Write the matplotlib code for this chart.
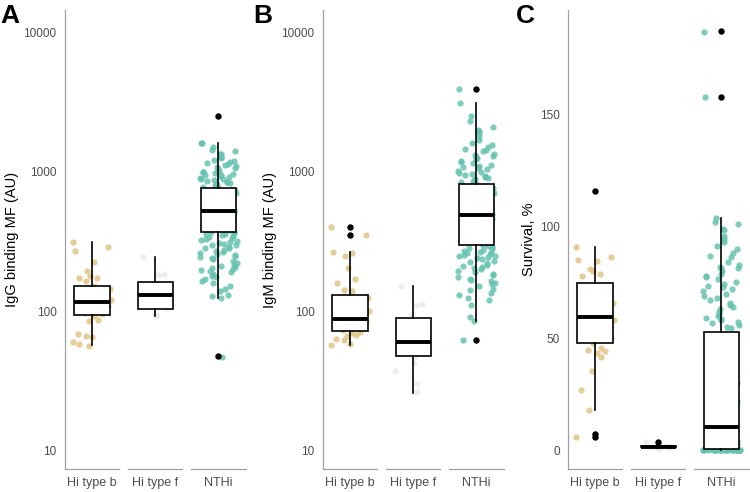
import math

import matplotlib
matplotlib.use('Agg')
import matplotlib.pyplot as plt

plt.rcParams['font.family'] = ['Liberation Sans', 'DejaVu Sans']

groups = ['Hi type b', 'Hi type f', 'NTHi']
point_colors = ['#E2C385', '#EBEBEB', '#66C3B1']

# ---- panel A: IgG binding ----
igg_hib = [314, 290, 270, 226, 194, 179, 173, 172, 164, 150, 145, 135, 129, 120, 117,
           112, 108, 104, 100, 97, 95, 92, 86, 85, 68, 66, 65, 60, 58, 56]
igg_hif = [245, 185, 180, 160, 135, 125, 105, 95, 93, 92]
igg_nthi = [1620, 1600, 1500, 1430, 1400, 1350, 1340, 1300, 1280, 1250, 1210, 1200, 1180,
            1150, 1130, 1120, 1100, 1080, 1060, 1040, 1020, 1010, 1000, 990, 980, 960, 950,
            940, 930, 910, 900, 890, 880, 870, 860, 850, 840, 830, 820, 810, 800, 790,
            780, 770, 760, 740, 720, 700, 680, 660, 640, 620, 600, 580, 560, 540, 530, 522,
            520, 510, 500, 490, 480, 470, 460, 450, 440, 430, 420, 410, 400, 390, 380, 372,
            370, 365, 360, 355, 350, 345, 340, 335, 330, 325, 320, 315, 310, 305, 300, 298,
            290, 285, 282, 275, 270, 266, 260, 255, 252, 248, 244, 240, 235, 228, 220, 214,
            210, 208, 205, 200, 198, 195, 190, 185, 178, 175, 170, 165, 159, 152, 145, 140,
            130, 128, 125, 47]
igg_med = [117, 131, 522]
igg_q1 = [94, 103, 371]
igg_q3 = [152, 161, 767]
igg_lo = [57, 92.5, 125]
igg_hi = [311, 243, 1616]
igg_out = [[], [], [2500, 47.5]]

# ---- panel B: IgM binding ----
igm_hib = [399, 349, 266, 259, 248, 202, 171, 160, 142, 139, 125, 115, 108, 100, 92, 87,
           85, 80, 76, 73, 71, 70, 67, 66, 63, 62, 58, 57]
igm_hif = [151, 112, 110, 95, 80, 65, 58, 52, 47, 42, 37, 30, 26]
igm_nthi = [3900, 3100, 2500, 2330, 2100, 2000, 1950, 1900, 1800, 1680, 1620, 1550, 1500,
            1450, 1430, 1400, 1350, 1320, 1300, 1280, 1250, 1240, 1200, 1180, 1150, 1120,
            1100, 1080, 1060, 1050, 1020, 1000, 980, 970, 950, 930, 920, 900, 880, 870,
            860, 850, 840, 820, 800, 770, 740, 700, 680, 650, 620, 600, 580, 560, 540, 520,
            500, 490, 480, 460, 440, 420, 400, 390, 380, 360, 350, 340, 330, 320, 310, 300,
            295, 290, 285, 280, 275, 270, 265, 262, 260, 255, 252, 250, 248, 245, 240, 235,
            230, 225, 220, 215, 210, 207, 205, 200, 195, 190, 185, 180, 175, 170, 167, 165,
            160, 155, 150, 145, 142, 135, 130, 125, 120, 110, 91, 85, 62]
igm_med = [87, 59.6, 489]
igm_q1 = [71.5, 47.3, 299]
igm_q3 = [131, 88.6, 812]
igm_lo = [57.3, 25.9, 85]
igm_hi = [264, 151, 3097]
igm_out = [[399, 349], [], [3900, 62]]

# ---- panel C: survival ----
surv_hib = [91, 86.6, 85.2, 84.7, 81, 80, 79, 77.9, 72, 68, 66, 63, 60, 58, 55, 53,
            50, 48, 45.7, 44.8, 44.5, 43.3, 41.5, 35.5, 27, 18, 7, 6]
surv_hif = [3.5, 2, 1.8, 1.5, 1.5, 1.2, 1, 1, 0.8, 0.5]
surv_nthi = [187, 158, 104, 102, 101, 99, 98.5, 96, 94.4, 93.2, 91.5, 90, 88, 86.8, 86.5,
             84, 83, 82, 81.7, 81.5, 80, 79, 78, 77.4, 76.5, 75, 74.3, 73.4, 73, 72, 71, 70,
             69, 68, 67, 66, 65, 64, 63, 62, 61, 60, 59, 58.5, 58, 57.5, 57, 56, 55, 54.6,
             52, 51, 48, 45, 39.4, 35, 30, 28.2, 25, 22, 20, 18, 15, 13, 12, 11, 10.4, 10,
             9, 8, 7, 6, 5, 4, 3, 2.5, 2, 2, 1.5, 1, 1, 1, 0.5, 0.5, 0, 0, 0, 0, 0, 0, 0, 0,
             0, 0, 0, 0, 0, 0, 0, 0, 0, 0, 0, 0, 0, 0, 0, 0, 0, 0, 0, 0]
surv_med = [59.7, 1.5, 10.4]
surv_q1 = [47.9, 1.2, 0.4]
surv_q3 = [74.8, 1.9, 53]
surv_lo = [18, 1.0, 0]
surv_hi = [91, 2.2, 104]
surv_out = [[115.8, 7.2, 6.0], [3.5], [187.4, 158]]


def jitter(n, k):
    # deterministic hash-based spread inside +-0.3 of the category centre
    offs = []
    for i in range(n):
        h = math.sin(i * 12.9898 + k * 78.233) * 43758.5453
        offs.append((h - math.floor(h) - 0.5) * 0.6)
    return offs


def draw_panel(ax, series, med, q1, q3, lo, hi, out, ylabel):
    for k, vals in enumerate(series):
        xs = [k + d for d in jitter(len(vals), k)]
        ax.scatter(xs, vals, s=20, color=point_colors[k], alpha=0.85,
                   linewidths=0, zorder=2)
    stats = [dict(med=med[k], q1=q1[k], q3=q3[k], whislo=lo[k], whishi=hi[k],
                  fliers=out[k]) for k in range(3)]
    ax.bxp(stats, positions=[0, 1, 2], widths=0.56, showcaps=False, patch_artist=True,
           boxprops=dict(facecolor='white', edgecolor='black', linewidth=1.2),
           medianprops=dict(color='black', linewidth=2.8, solid_capstyle='butt'),
           whiskerprops=dict(color='black', linewidth=1.2),
           flierprops=dict(marker='o', markerfacecolor='black', markeredgecolor='black',
                           markersize=3.6),
           zorder=3)
    ax.set_xlim(-0.43, 2.5)
    ax.set_xticks([0, 1, 2])
    ax.set_xticklabels(groups)
    for s in ['top', 'right', 'bottom']:
        ax.spines[s].set_visible(False)
    ax.spines['left'].set_color('#A0A0A0')
    ax.spines['left'].set_linewidth(0.9)
    for k in range(3):
        ax.plot([k - 0.43, k + 0.43], [0, 0], color='#A0A0A0', lw=0.9,
                transform=ax.get_xaxis_transform(), clip_on=False)
    ax.tick_params(axis='both', length=0, labelsize=8.5, colors='#4D4D4D')
    ax.tick_params(axis='x', pad=6, labelsize=9)
    ax.tick_params(axis='y', pad=6)
    ax.set_ylabel(ylabel, fontsize=10.5, color='black', labelpad=3)


fig = plt.figure(figsize=(7.5, 4.92), dpi=100)
bottom = 23 / 492
height = 459 / 492
width = 185 / 750

axA = fig.add_axes([65 / 750, bottom, width, height])
axB = fig.add_axes([323 / 750, bottom, width, height])
axC = fig.add_axes([568 / 750, bottom, width, height])

draw_panel(axA, [igg_hib, igg_hif, igg_nthi], igg_med, igg_q1, igg_q3, igg_lo, igg_hi,
           igg_out, 'IgG binding MF (AU)')
draw_panel(axB, [igm_hib, igm_hif, igm_nthi], igm_med, igm_q1, igm_q3, igm_lo, igm_hi,
           igm_out, 'IgM binding MF (AU)')
draw_panel(axC, [surv_hib, surv_hif, surv_nthi], surv_med, surv_q1, surv_q3, surv_lo,
           surv_hi, surv_out, 'Survival, %')

for ax in (axA, axB):
    ax.set_yscale('log')
    ax.set_ylim(7.34, 14490)
    ax.set_yticks([10, 100, 1000, 10000])
    ax.set_yticklabels(['10', '100', '1000', '10000'])
    ax.minorticks_off()

axC.set_ylim(-8.5, 197)
axC.set_yticks([0, 50, 100, 150])
axC.set_yticklabels(['0', '50', '100', '150'])

for letter, x in [('A', 0), ('B', 253), ('C', 516)]:
    fig.text(x / 750, 1 - 4 / 492, letter, fontsize=19, fontweight='bold',
             ha='left', va='top')

fig.savefig('out.png', dpi=100)
